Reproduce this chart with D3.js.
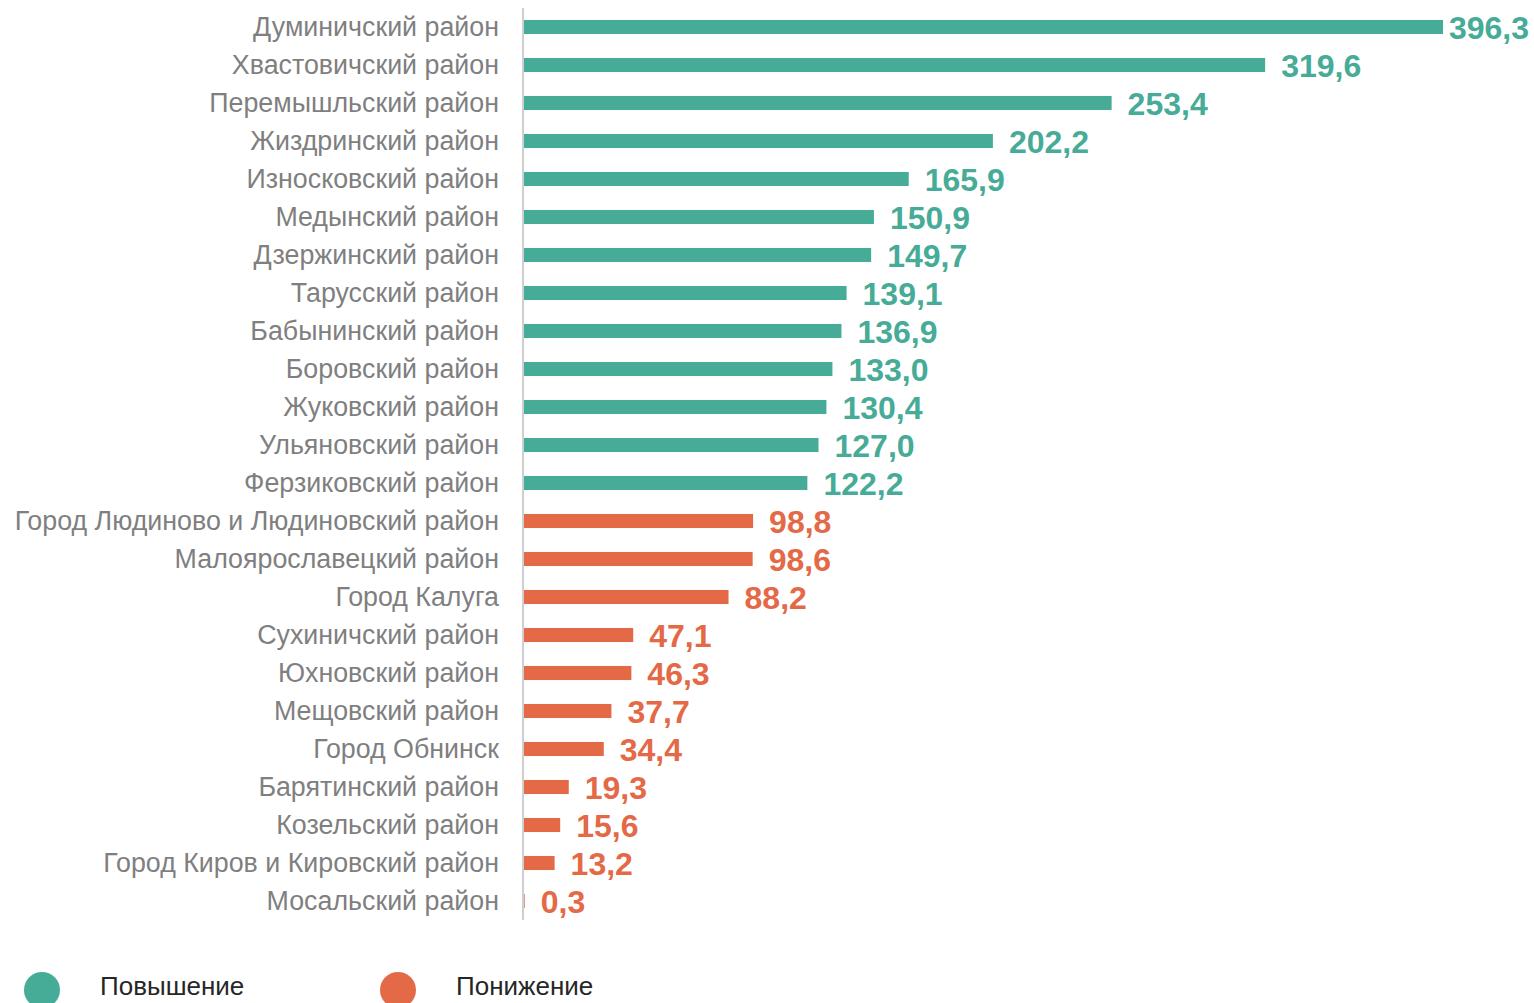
<!DOCTYPE html>
<html>
<head>
<meta charset="utf-8">
<script src="https://cdn.jsdelivr.net/npm/d3@7"></script>
<style>
  body { margin: 0; background: #fff; }
  svg { display: block; font-family: "Liberation Sans", Arial, sans-serif; }
</style>
</head>
<body>
<svg id="chart" width="1534" height="1003"></svg>
<script>
// districts, top to bottom
const districts = [
  'Думиничский район', 'Хвастовичский район', 'Перемышльский район', 'Жиздринский район',
  'Износковский район', 'Медынский район', 'Дзержинский район', 'Тарусский район',
  'Бабынинский район', 'Боровский район', 'Жуковский район', 'Ульяновский район',
  'Ферзиковский район', 'Город Людиново и Людиновский район', 'Малоярославецкий район',
  'Город Калуга', 'Сухиничский район', 'Юхновский район', 'Мещовский район',
  'Город Обнинск', 'Барятинский район', 'Козельский район',
  'Город Киров и Кировский район', 'Мосальский район'
];
const values = [
  396.3, 319.6, 253.4, 202.2, 165.9, 150.9, 149.7, 139.1, 136.9, 133.0, 130.4, 127.0,
  122.2, 98.8, 98.6, 88.2, 47.1, 46.3, 37.7, 34.4, 19.3, 15.6, 13.2, 0.3
];
// 'up' = повышение, 'down' = понижение
const trend = [
  'up', 'up', 'up', 'up', 'up', 'up', 'up', 'up', 'up', 'up', 'up', 'up',
  'up', 'down', 'down', 'down', 'down', 'down', 'down', 'down', 'down', 'down', 'down', 'down'
];
const legendLabels = ['Повышение', 'Понижение'];

const colors = { up: '#46ab97', down: '#e36947' };
const width = 1534;

const data = districts.map((d, i) => ({ name: d, value: values[i], trend: trend[i] }));

const svg = d3.select('#chart');
const margin = { top: 8, left: 524 };

const x = d3.scaleLinear()
  .domain([0, 396.3])
  .range([margin.left, 1443]);

const y = d3.scaleBand()
  .domain(districts)
  .range([margin.top, margin.top + 38 * districts.length])
  .paddingInner(0.63)
  .paddingOuter(0.315);

// bars
svg.selectAll('.bar')
  .data(data)
  .enter().append('rect')
  .attr('class', 'bar')
  .attr('x', x(0))
  .attr('y', d => y(d.name))
  .attr('width', d => x(d.value) - x(0))
  .attr('height', y.bandwidth())
  .attr('fill', d => colors[d.trend]);

// category axis
const axis = svg.append('g')
  .attr('transform', `translate(${margin.left - 1}, 0)`)
  .call(d3.axisLeft(y).tickSize(0).tickPadding(24));
axis.select('.domain')
  .attr('stroke', '#bfbfbf')
  .attr('stroke-width', 1.5)
  .attr('d', `M0,${margin.top}V${margin.top + 38 * districts.length}`);
axis.selectAll('text')
  .attr('font-family', '"Liberation Sans", Arial, sans-serif')
  .attr('font-size', 26.8)
  .attr('fill', '#7f7f7f');

// value labels (kept inside the canvas)
const fmt = v => d3.format('.1f')(v).replace('.', ',');
svg.selectAll('.label')
  .data(data)
  .enter().append('text')
  .attr('class', 'label')
  .attr('y', d => y(d.name) + y.bandwidth() / 2)
  .attr('dy', '0.37em')
  .attr('font-size', 32)
  .attr('font-weight', 'bold')
  .attr('fill', d => colors[d.trend])
  .text(d => fmt(d.value))
  .attr('x', function(d) {
    const w = this.getComputedTextLength();
    return Math.min(x(d.value) + 16, width - 5 - w);
  });

// legend
const legend = svg.append('g');
const legendX = [42, 398];
legendLabels.forEach((lbl, i) => {
  legend.append('circle')
    .attr('cx', legendX[i])
    .attr('cy', 990)
    .attr('r', 18)
    .attr('fill', i === 0 ? colors.up : colors.down);
  legend.append('text')
    .attr('x', legendX[i] + 58)
    .attr('y', 995)
    .attr('font-size', 26)
    .attr('fill', '#262626')
    .text(lbl);
});
</script>
</body>
</html>
